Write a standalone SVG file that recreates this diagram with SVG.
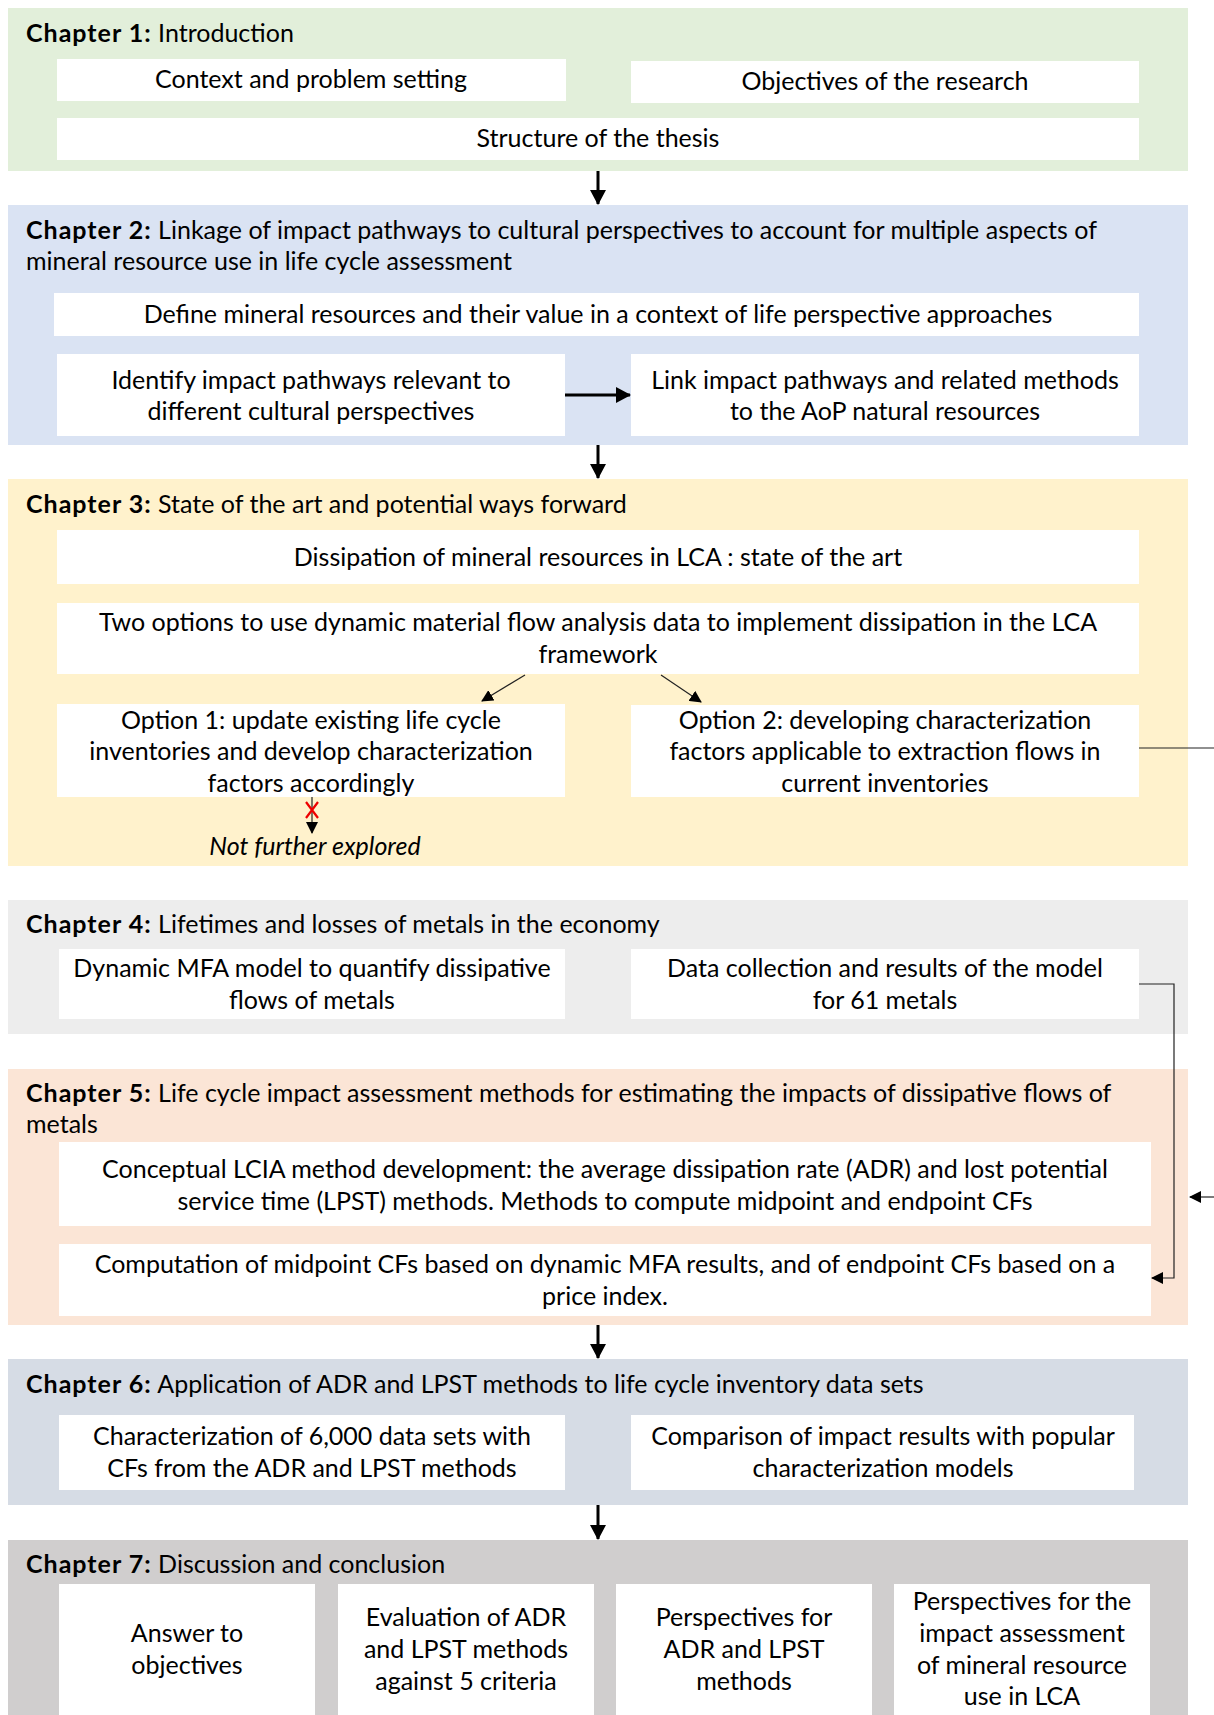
<svg xmlns="http://www.w3.org/2000/svg" width="1214" height="1715" viewBox="0 0 1214 1715">
<defs>
<style>
text{font-family:Lato,"Open Sans","Liberation Sans",sans-serif;font-size:25px;fill:#000}
.t{text-anchor:middle}
.h{font-weight:bold;letter-spacing:1px}
.box{fill:#fff}
.big{stroke:#000;stroke-width:3;fill:none}
.thin{stroke:#222;stroke-width:1.2;fill:none}
</style>
<marker id="ah" markerUnits="userSpaceOnUse" markerWidth="16" markerHeight="16" refX="14" refY="8" orient="auto"><path d="M0,0 L15,8 L0,16 z" fill="#000"/></marker>
<marker id="ahs" markerUnits="userSpaceOnUse" markerWidth="12" markerHeight="12" refX="11" refY="6" orient="auto"><path d="M0,0 L12,6 L0,12 z" fill="#000"/></marker>
</defs>

<g id="chapter1">
<rect x="8" y="8" width="1180" height="163" fill="#E2EFDA"/>
<text x="26" y="42"><tspan class="h">Chapter 1:</tspan> Introduction</text>
</g>
<g id="context"><rect class="box" x="57" y="59" width="509" height="42"/><text class="t" x="311" y="88">Context and problem setting</text></g>
<g id="objectives"><rect class="box" x="631" y="61" width="508" height="42"/><text class="t" x="885" y="90">Objectives of the research</text></g>
<g id="structure"><rect class="box" x="57" y="118" width="1082" height="42"/><text class="t" x="598" y="147">Structure of the thesis</text></g>

<g id="chapter2">
<rect x="8" y="205" width="1180" height="240" fill="#DAE3F3"/>
<text x="26" y="239"><tspan class="h">Chapter 2:</tspan> Linkage of impact pathways to cultural perspectives to account for multiple aspects of</text>
<text x="26" y="270">mineral resource use in life cycle assessment</text>
</g>
<g id="define"><rect class="box" x="54" y="293" width="1085" height="43"/><text class="t" x="598" y="323">Define mineral resources and their value in a context of life perspective approaches</text></g>
<g id="identify"><rect class="box" x="57" y="354" width="508" height="82"/><text class="t" x="311" y="389">Identify impact pathways relevant to</text><text class="t" x="311" y="420">different cultural perspectives</text></g>
<g id="link"><rect class="box" x="631" y="354" width="508" height="82"/><text class="t" x="885" y="389">Link impact pathways and related methods</text><text class="t" x="885" y="420">to the AoP natural resources</text></g>

<g id="chapter3">
<rect x="8" y="479" width="1180" height="387" fill="#FFF2CC"/>
<text x="26" y="513"><tspan class="h">Chapter 3:</tspan> State of the art and potential ways forward</text>
</g>
<g id="dissipation"><rect class="box" x="57" y="530" width="1082" height="54"/><text class="t" x="598" y="566">Dissipation of mineral resources in LCA : state of the art</text></g>
<g id="twooptions"><rect class="box" x="57" y="603" width="1082" height="71"/><text class="t" x="598" y="631">Two options to use dynamic material flow analysis data to implement dissipation in the LCA</text><text class="t" x="598" y="663">framework</text></g>
<g id="option1"><rect class="box" x="57" y="704" width="508" height="93"/><text class="t" x="311" y="729">Option 1: update existing life cycle</text><text class="t" x="311" y="760">inventories and develop characterization</text><text class="t" x="311" y="792">factors accordingly</text></g>
<g id="option2"><rect class="box" x="631" y="705" width="508" height="92"/><text class="t" x="885" y="729">Option 2: developing characterization</text><text class="t" x="885" y="760">factors applicable to extraction flows in</text><text class="t" x="885" y="792">current inventories</text></g>
<g id="notexplored"><text class="t" x="315" y="855" font-style="italic">Not further explored</text></g>

<g id="chapter4">
<rect x="8" y="900" width="1180" height="134" fill="#EDEDED"/>
<text x="26" y="933"><tspan class="h">Chapter 4:</tspan> Lifetimes and losses of metals in the economy</text>
</g>
<g id="dynamicmfa"><rect class="box" x="59" y="949" width="506" height="70"/><text class="t" x="312" y="977">Dynamic MFA model to quantify dissipative</text><text class="t" x="312" y="1009">flows of metals</text></g>
<g id="datacollection"><rect class="box" x="631" y="949" width="508" height="70"/><text class="t" x="885" y="977">Data collection and results of the model</text><text class="t" x="885" y="1009">for 61 metals</text></g>

<g id="chapter5">
<rect x="8" y="1069" width="1180" height="256" fill="#FBE5D6"/>
<text x="26" y="1102"><tspan class="h">Chapter 5:</tspan> Life cycle impact assessment methods for estimating the impacts of dissipative flows of</text>
<text x="26" y="1133">metals</text>
</g>
<g id="conceptual"><rect class="box" x="59" y="1142" width="1092" height="84"/><text class="t" x="605" y="1178">Conceptual LCIA method development: the average dissipation rate (ADR) and lost potential</text><text class="t" x="605" y="1210">service time (LPST) methods. Methods to compute midpoint and endpoint CFs</text></g>
<g id="computation"><rect class="box" x="59" y="1244" width="1092" height="72"/><text class="t" x="605" y="1273">Computation of midpoint CFs based on dynamic MFA results, and of endpoint CFs based on a</text><text class="t" x="605" y="1305">price index.</text></g>

<g id="chapter6">
<rect x="8" y="1359" width="1180" height="146" fill="#D6DCE5"/>
<text x="26" y="1393"><tspan class="h">Chapter 6:</tspan> Application of ADR and LPST methods to life cycle inventory data sets</text>
</g>
<g id="characterization"><rect class="box" x="59" y="1415" width="506" height="75"/><text class="t" x="312" y="1445">Characterization of 6,000 data sets with</text><text class="t" x="312" y="1477">CFs from the ADR and LPST methods</text></g>
<g id="comparison"><rect class="box" x="631" y="1415" width="503" height="75"/><text class="t" x="883" y="1445">Comparison of impact results with popular</text><text class="t" x="883" y="1477">characterization models</text></g>

<g id="chapter7">
<rect x="8" y="1540" width="1180" height="180" fill="#D0CECE"/>
<text x="26" y="1573"><tspan class="h">Chapter 7:</tspan> Discussion and conclusion</text>
</g>
<g id="answer"><rect class="box" x="59" y="1584" width="256" height="140"/><text class="t" x="187" y="1642">Answer to</text><text class="t" x="187" y="1674">objectives</text></g>
<g id="evaluation"><rect class="box" x="338" y="1584" width="256" height="140"/><text class="t" x="466" y="1626">Evaluation of ADR</text><text class="t" x="466" y="1658">and LPST methods</text><text class="t" x="466" y="1690">against 5 criteria</text></g>
<g id="perspadr"><rect class="box" x="616" y="1584" width="256" height="140"/><text class="t" x="744" y="1626">Perspectives for</text><text class="t" x="744" y="1658">ADR and LPST</text><text class="t" x="744" y="1690">methods</text></g>
<g id="perspimpact"><rect class="box" x="894" y="1584" width="256" height="140"/><text class="t" x="1022" y="1610">Perspectives for the</text><text class="t" x="1022" y="1642">impact assessment</text><text class="t" x="1022" y="1674">of mineral resource</text><text class="t" x="1022" y="1705">use in LCA</text></g>

<g id="connectors">
<line class="big" x1="598" y1="171" x2="598" y2="204" marker-end="url(#ah)"/>
<line class="big" x1="565" y1="395" x2="630" y2="395" stroke-width="4.5" marker-end="url(#ah)"/>
<line class="big" x1="598" y1="445" x2="598" y2="478" marker-end="url(#ah)"/>
<line class="thin" x1="525" y1="675" x2="482" y2="701" marker-end="url(#ahs)"/>
<line class="thin" x1="661" y1="675" x2="701" y2="702" marker-end="url(#ahs)"/>
<line class="thin" x1="312" y1="797" x2="312" y2="833" marker-end="url(#ahs)"/>
<path d="M306,802 L318,818 M318,802 L306,818" stroke="#E00" stroke-width="2.2" fill="none"/>
<line class="thin" x1="1139" y1="748" x2="1214" y2="748"/>
<polyline class="thin" points="1139,984 1174,984 1174,1278 1152,1278" marker-end="url(#ahs)"/>
<line class="thin" x1="1214" y1="1197" x2="1190" y2="1197" marker-end="url(#ahs)"/>
<line class="big" x1="598" y1="1325" x2="598" y2="1358" marker-end="url(#ah)"/>
<line class="big" x1="598" y1="1505" x2="598" y2="1539" marker-end="url(#ah)"/>
</g>
</svg>
